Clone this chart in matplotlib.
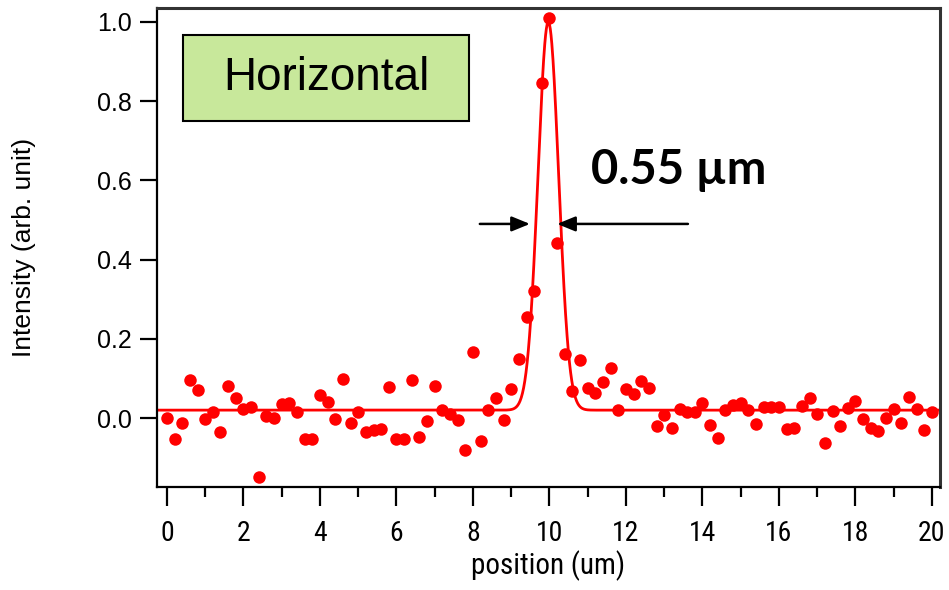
import numpy as np
import matplotlib
matplotlib.use("Agg")
import matplotlib.pyplot as plt
from matplotlib import font_manager
from matplotlib.patches import Rectangle

# ---- data ----
position = [round(0.2 * i, 1) for i in range(101)]
intensity = [
    0.000, -0.053, -0.013, 0.096, 0.070, -0.003, 0.015, -0.035, 0.080, 0.050,
    0.023, 0.028, -0.149, 0.005, 0.000, 0.035, 0.038, 0.015, -0.053, -0.053,
    0.058, 0.040, -0.003, 0.098, -0.013, 0.015, -0.035, -0.030, -0.028, 0.078,
    -0.053, -0.053, 0.096, -0.048, -0.008, 0.080, 0.020, 0.010, -0.005, -0.080,
    0.167, -0.058, 0.020, 0.050, -0.005, 0.073, 0.149, 0.255, 0.320, 0.846,
    1.010, 0.442, 0.162, 0.068, 0.146, 0.076, 0.063, 0.091, 0.126, 0.020,
    0.073, 0.060, 0.093, 0.076, -0.020, 0.008, -0.025, 0.023, 0.015, 0.015,
    0.038, -0.018, -0.050, 0.020, 0.033, 0.038, 0.020, -0.015, 0.028, 0.028,
    0.028, -0.028, -0.025, 0.030, 0.050, 0.010, -0.063, 0.018, -0.020, 0.025,
    0.043, -0.003, -0.025, -0.033, 0.000, 0.023, -0.013, 0.053, 0.023, -0.030,
    0.015,
]
# Gaussian fit parameters
fit_baseline = 0.02
fit_amplitude = 0.98
fit_center = 9.97
fit_sigma = 0.27

xticks = [0, 2, 4, 6, 8, 10, 12, 14, 16, 18, 20]
yticks = [0.0, 0.2, 0.4, 0.6, 0.8, 1.0]
xlabel = "position (um)"
ylabel = "Intensity (arb. unit)"
box_label = "Horizontal"
fwhm_label = "0.55 µm"

# ---- fonts ----
available = {f.name for f in font_manager.fontManager.ttflist}
def pick(*names):
    for n in names:
        if n in available:
            return n
    return "DejaVu Sans"
sans = pick("Liberation Sans", "Arial", "DejaVu Sans")
narrow = pick("Liberation Sans Narrow", "DejaVu Sans Condensed", "Roboto Condensed", "Liberation Sans")
bold = pick("Lato", "Open Sans", "Liberation Sans")

fig = plt.figure(figsize=(9.49, 5.90), dpi=100)
ax = fig.add_axes([157 / 949, 1 - 487 / 590, 783 / 949, 479 / 590])

xf = np.linspace(-0.26, 20.21, 2000)
yf = fit_baseline + fit_amplitude * np.exp(-(xf - fit_center) ** 2 / (2 * fit_sigma ** 2))
ax.plot(xf, yf, color="#ff0000", lw=2.0, zorder=2)
ax.plot(position, intensity, "o", color="#ff0000", ms=9, mec="none", zorder=3)

ax.set_xlim(-0.26, 20.21)
ax.set_ylim(-0.174, 1.035)
ax.set_xticks(xticks)
ax.set_xticks(np.arange(1, 20, 2), minor=True)
ax.set_yticks(yticks)
ax.set_yticklabels([f"{v:.1f}" for v in yticks], fontfamily=sans, fontsize=18)
ax.set_xticklabels([str(v) for v in xticks], fontfamily=narrow, fontsize=20)

ax.tick_params(axis="y", which="major", direction="out", length=12, width=1.6, pad=6)
ax.tick_params(axis="x", which="major", direction="out", length=14, width=1.6, pad=10)
ax.tick_params(axis="x", which="minor", direction="out", length=7, width=1.6)

for s in ["left", "bottom"]:
    ax.spines[s].set_linewidth(1.6)
    ax.spines[s].set_color("black")
for s in ["top", "right"]:
    ax.spines[s].set_linewidth(2.2)
    ax.spines[s].set_color("#333333")

ax.set_xlabel(xlabel, fontfamily=narrow, fontsize=21, labelpad=2)
ax.set_ylabel(ylabel, fontfamily=sans, fontsize=19, labelpad=44)

# label box
ax.add_patch(Rectangle((26 / 783, (487 - 121) / 479), 286 / 783, 86 / 479,
                       transform=ax.transAxes, facecolor="#c8e89b",
                       edgecolor="black", lw=1.5, zorder=4))
ax.text((26 + 143) / 783, (487 - 78) / 479, box_label, transform=ax.transAxes,
        ha="center", va="center", fontsize=33, fontfamily=sans, zorder=5)

# FWHM annotation
ax.text(13.37, 0.625, fwhm_label, ha="center", va="center", fontsize=34,
        fontweight="bold", fontfamily=bold)
arrow_y = 0.49
style = "-|>,head_length=1.1,head_width=0.45"
ax.annotate("", xy=(9.49, arrow_y), xytext=(8.18, arrow_y),
            arrowprops=dict(arrowstyle=style, color="black", lw=1.8,
                            shrinkA=0, shrinkB=0))
ax.annotate("", xy=(10.2, arrow_y), xytext=(13.62, arrow_y),
            arrowprops=dict(arrowstyle=style, color="black", lw=1.8,
                            shrinkA=0, shrinkB=0))

fig.savefig("out.png", dpi=100)
